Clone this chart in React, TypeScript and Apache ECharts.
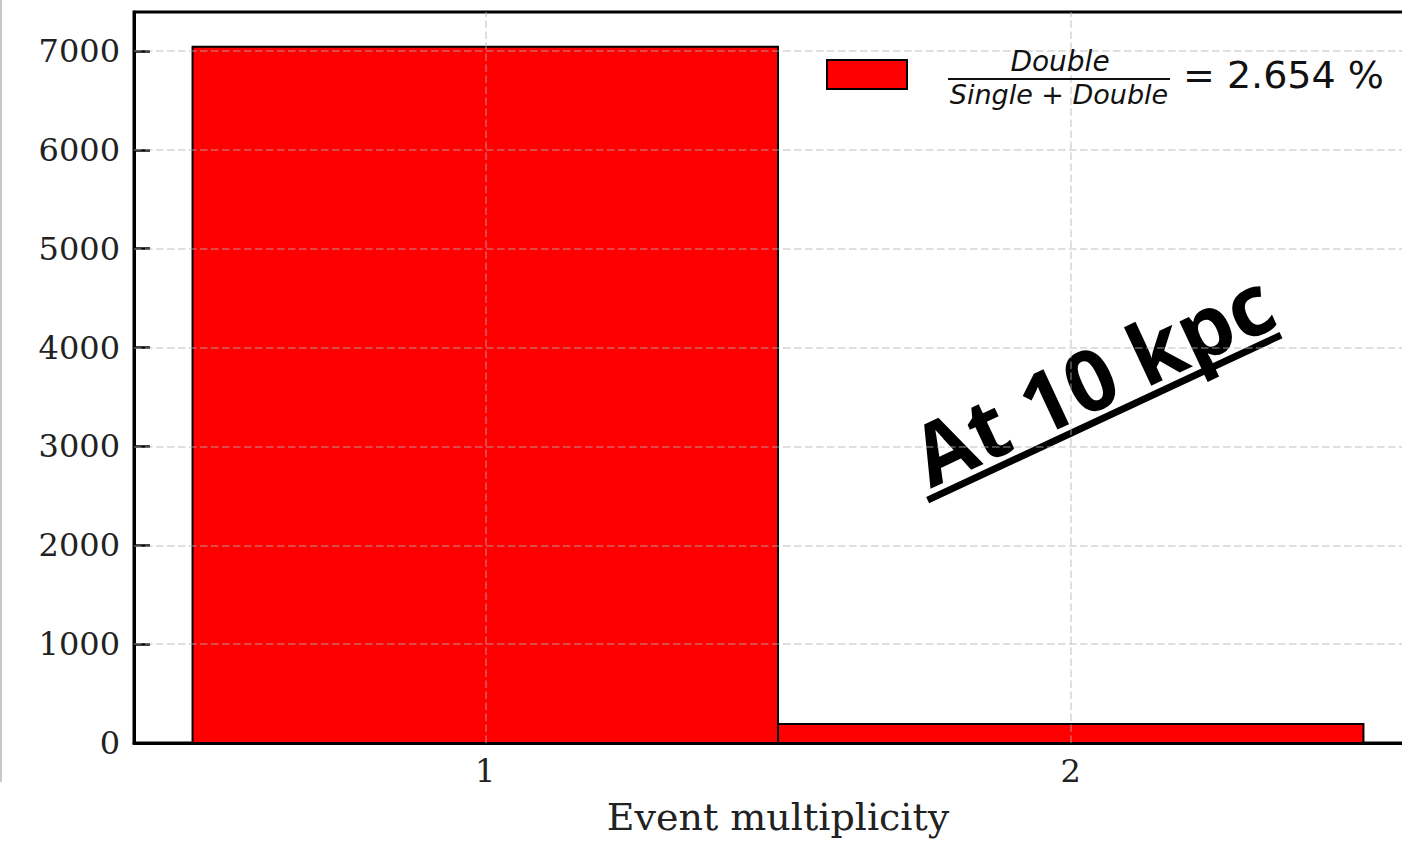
import React, { useEffect, useRef } from "react";
import * as echarts from "echarts";

const multiplicities = [1, 2];
const counts = [7042, 192];
const xTickValues = [1, 2];
const yTickValues = [0, 1000, 2000, 3000, 4000, 5000, 6000, 7000];
const xRange = [0.4, 2.6];
const yRange = [0, 7394];
const xAxisTitle = "Event multiplicity";
const legendNumerator = "Double";
const legendDenominator = "Single + Double";
const legendValue = "= 2.654 %";
const annotation = "At 10 kpc";

export default function App() {
  const ref = useRef<HTMLDivElement>(null);
  useEffect(() => {
    if (!ref.current) return;
    const chart = echarts.init(ref.current, undefined, { renderer: "svg" });
    const barData = multiplicities.map((m, i) => [m, counts[i]]);
    const deg = (25 * Math.PI) / 180;
    chart.setOption({
      animation: false,
      backgroundColor: "#ffffff",
      grid: {
        left: 134,
        top: 12,
        right: 0,
        bottom: 99,
        show: true,
        borderColor: "#000",
        borderWidth: 3,
        backgroundColor: "transparent",
      },
      xAxis: {
        type: "value",
        min: xRange[0],
        max: xRange[1],
        name: xAxisTitle,
        nameLocation: "middle",
        nameGap: 55,
        nameTextStyle: { fontFamily: "DejaVu Serif", fontSize: 38, color: "#222" },
        axisLine: { show: true, onZero: false, lineStyle: { color: "#000", width: 3 } },
        axisTick: { show: true, inside: true, length: 16, customValues: xTickValues, lineStyle: { color: "#000", width: 2.5 } },
        axisLabel: { show: true, customValues: xTickValues, margin: 12, fontFamily: "DejaVu Serif", fontSize: 32, color: "#222", formatter: (v: number) => String(v) },
        splitLine: { show: false },
      },
      yAxis: {
        type: "value",
        min: yRange[0],
        max: yRange[1],
        axisLine: { show: true, onZero: false, lineStyle: { color: "#000", width: 3 } },
        axisTick: { show: true, inside: true, length: 16, customValues: yTickValues, lineStyle: { color: "#000", width: 2.5 } },
        axisLabel: { show: true, customValues: yTickValues, margin: 14, fontFamily: "DejaVu Serif", fontSize: 32, color: "#222", formatter: (v: number) => String(v) },
        splitLine: { show: false },
      },
      series: [
        {
          type: "custom",
          name: "Double/(Single+Double) = 2.654 %",
          z: 2,
          data: barData,
          renderItem: (params: any, api: any) => {
            const x = api.value(0);
            const y = api.value(1);
            const p0 = api.coord([x - 0.5, y]);
            const p1 = api.coord([x + 0.5, 0]);
            return {
              type: "rect",
              shape: { x: p0[0], y: p0[1], width: p1[0] - p0[0], height: p1[1] - p0[1] },
              style: { fill: "#ff0000", stroke: "#000", lineWidth: 2 },
            };
          },
        },
        {
          type: "line",
          data: [],
          z: 3,
          silent: true,
          markLine: {
            silent: true,
            symbol: "none",
            label: { show: false },
            lineStyle: { color: "rgba(176,176,176,0.55)", width: 1.5, type: [7.5, 3.5] },
            data: [
              ...yTickValues.filter((v) => v > 0).map((v) => ({ yAxis: v })),
              ...xTickValues.map((v) => ({ xAxis: v })),
            ],
          },
        },
      ],
      graphic: [
        {
          type: "line",
          shape: { x1: 1, y1: 0, x2: 1, y2: 782 },
          style: { stroke: "#c8c8c8", lineWidth: 2 },
          z: 10,
        },
        {
          type: "rect",
          shape: { x: 827, y: 60, width: 80, height: 29 },
          style: { fill: "#ff0000", stroke: "#000", lineWidth: 2 },
          z: 10,
        },
        {
          type: "text",
          x: 1060,
          y: 61,
          style: { text: legendNumerator, fontFamily: "DejaVu Sans", fontStyle: "italic", fontSize: 28, fill: "#111", align: "center", verticalAlign: "middle" },
          z: 10,
        },
        {
          type: "line",
          shape: { x1: 948, y1: 79, x2: 1170, y2: 79 },
          style: { stroke: "#111", lineWidth: 2 },
          z: 10,
        },
        {
          type: "text",
          x: 1059,
          y: 94,
          style: { text: legendDenominator, fontFamily: "DejaVu Sans", fontStyle: "italic", fontSize: 27, fill: "#111", align: "center", verticalAlign: "middle" },
          z: 10,
        },
        {
          type: "text",
          x: 1183,
          y: 75,
          style: { text: legendValue, fontFamily: "DejaVu Sans", fontSize: 38, fill: "#111", align: "left", verticalAlign: "middle" },
          z: 10,
        },
        {
          type: "group",
          x: 1092,
          y: 377,
          rotation: deg,
          z: 10,
          children: [
            {
              type: "text",
              x: 0,
              y: 0,
              style: { text: annotation, fontFamily: "Open Sans", fontWeight: "bold", fontSize: 85, fill: "#000", align: "center", verticalAlign: "middle" },
            },
            {
              type: "line",
              shape: { x1: -201, y1: 42, x2: 189, y2: 42 },
              style: { stroke: "#000", lineWidth: 7 },
            },
          ],
        },
      ],
    });
    return () => chart.dispose();
  }, []);
  return (
    <div style={{ position: "fixed", left: 0, top: 0, width: 1402, height: 842, overflow: "hidden", background: "#fff" }}>
      <div ref={ref} style={{ width: 1422, height: 842 }} />
    </div>
  );
}
